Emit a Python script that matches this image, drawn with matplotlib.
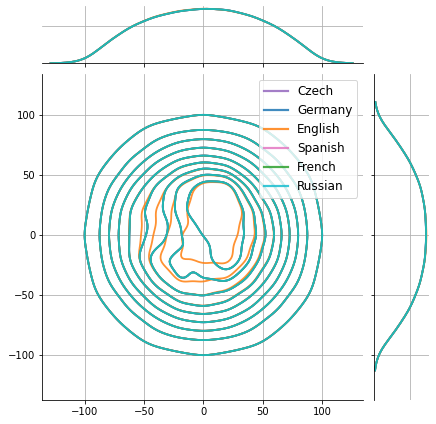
import numpy as np
import pandas as pd
import matplotlib
matplotlib.use("Agg")
import matplotlib.pyplot as plt
import seaborn as sns
from matplotlib.lines import Line2D

# ---- data (estimated density weights on a coarse lattice) ----
languages = ["Czech", "Germany", "English", "Spanish", "French", "Russian"]
colors = ["#9467bd", "#1f77b4", "#ff7f0e", "#e377c2", "#2ca02c", "#17becf"]

grid_x = [-100, -80, -60, -40, -20, 0, 20, 40, 60, 80, 100]
grid_y = [100, 80, 60, 40, 20, 0, -20, -40, -60, -80, -100]

weights_shared = [
    [0, 0, 0, 0, 3, 8, 3, 0, 0, 0, 0],
    [0, 0, 8, 27, 36, 38, 36, 27, 8, 0, 0],
    [0, 8, 32, 43, 47, 48, 47, 43, 32, 8, 0],
    [0, 27, 43, 48, 50, 52, 53, 48, 43, 27, 0],
    [3, 36, 47, 47, 50, 53, 53, 50, 47, 36, 3],
    [8, 38, 45, 46, 49, 50, 52, 50, 48, 38, 8],
    [3, 36, 47, 50, 50, 49, 54, 49, 47, 36, 3],
    [0, 27, 43, 48, 50, 49, 49, 48, 43, 27, 0],
    [0, 8, 32, 43, 47, 48, 47, 43, 32, 8, 0],
    [0, 0, 8, 27, 36, 38, 36, 27, 8, 0, 0],
    [0, 0, 0, 0, 3, 8, 3, 0, 0, 0, 0],
]
weights_english = [
    [0, 0, 0, 0, 3, 8, 3, 0, 0, 0, 0],
    [0, 0, 8, 27, 36, 38, 36, 27, 8, 0, 0],
    [0, 8, 32, 43, 47, 48, 47, 43, 32, 8, 0],
    [0, 27, 43, 48, 50, 52, 53, 48, 43, 27, 0],
    [3, 36, 47, 48, 50, 52, 53, 50, 47, 36, 3],
    [8, 38, 45, 48, 51, 51, 51, 50, 48, 38, 8],
    [3, 36, 47, 50, 51, 51, 52, 49, 47, 36, 3],
    [0, 27, 43, 48, 50, 49, 49, 48, 43, 27, 0],
    [0, 8, 32, 43, 47, 48, 47, 43, 32, 8, 0],
    [0, 0, 8, 27, 36, 38, 36, 27, 8, 0, 0],
    [0, 0, 0, 0, 3, 8, 3, 0, 0, 0, 0],
]
lang_weights = {lang: (weights_english if lang == "English" else weights_shared)
                for lang in languages}

axis_ticks = [-100, -50, 0, 50, 100]

# ---- build table ----
rows = []
for lang in languages:
    W = lang_weights[lang]
    for i, yv in enumerate(grid_y):
        for j, xv in enumerate(grid_x):
            if W[i][j] > 0:
                rows.append((lang, xv, yv, W[i][j]))
df = pd.DataFrame(rows, columns=["lang", "x", "y", "w"])
palette = dict(zip(languages, colors))

# ---- figure ----
W_PX, H_PX, DPI = 436, 424, 72
fig = plt.figure(figsize=(W_PX / DPI, H_PX / DPI), dpi=DPI)

def frac(l, t, r, b):
    return [l / W_PX, 1 - b / H_PX, (r - l) / W_PX, (b - t) / H_PX]

ax = fig.add_axes(frac(42.3, 74, 363.3, 400.3))
ax_top = fig.add_axes(frac(42.3, 6, 363.3, 63.3), sharex=ax)
ax_right = fig.add_axes(frac(374, 74, 429, 400.3), sharey=ax)

bw = 0.27
sns.kdeplot(data=df, x="x", y="y", weights="w", hue="lang", hue_order=languages,
            palette=palette, levels=10, thresh=0.05, bw_method=bw,
            linewidths=1.8, alpha=0.85, legend=False, ax=ax)
rev = languages[::-1]
sns.kdeplot(data=df, x="x", weights="w", hue="lang", hue_order=rev,
            palette=palette, bw_method=bw, linewidth=1.8, alpha=0.85,
            legend=False, ax=ax_top, clip=(-129, 126))
sns.kdeplot(data=df, y="y", weights="w", hue="lang", hue_order=rev,
            palette=palette, bw_method=bw, linewidth=1.8, alpha=0.85,
            legend=False, ax=ax_right, clip=(-113, 111))

grid_kw = dict(color="#b0b0b0", linewidth=0.8)
ax.set_xlim(-136, 135)
ax.set_ylim(-138, 134.4)
ax.set_xticks(axis_ticks)
ax.set_yticks(axis_ticks)
ax.grid(True, **grid_kw)
ax.set_axisbelow(True)
ax.set_xlabel("")
ax.set_ylabel("")
ax.tick_params(labelsize=10)
for s in ["top", "right"]:
    ax.spines[s].set_visible(False)

# marginals
top_max = ax_top.get_ylim()[1]
ax_top.set_ylim(0, top_max)
ax_top.set_yticks([0.65 * top_max])
ax_top.grid(True, **grid_kw)
ax_top.set_axisbelow(True)
ax_top.tick_params(axis="x", labelbottom=False)
ax_top.tick_params(axis="y", left=False, labelleft=False)
ax_top.set_xlabel("")
ax_top.set_ylabel("")
for s in ["top", "right", "left"]:
    ax_top.spines[s].set_visible(False)

right_max = ax_right.get_xlim()[1]
ax_right.set_xlim(0, right_max)
ax_right.set_xticks([0.65 * right_max])
ax_right.grid(True, **grid_kw)
ax_right.set_axisbelow(True)
ax_right.tick_params(axis="y", labelleft=False)
ax_right.tick_params(axis="x", bottom=False, labelbottom=False)
ax_right.set_xlabel("")
ax_right.set_ylabel("")
for s in ["top", "right", "bottom"]:
    ax_right.spines[s].set_visible(False)

handles = [Line2D([], [], color=c, lw=2.2, alpha=0.85) for c in colors]
ax.legend(handles, languages, loc="upper right", fontsize=12)

fig.savefig("out.png", dpi=DPI)
